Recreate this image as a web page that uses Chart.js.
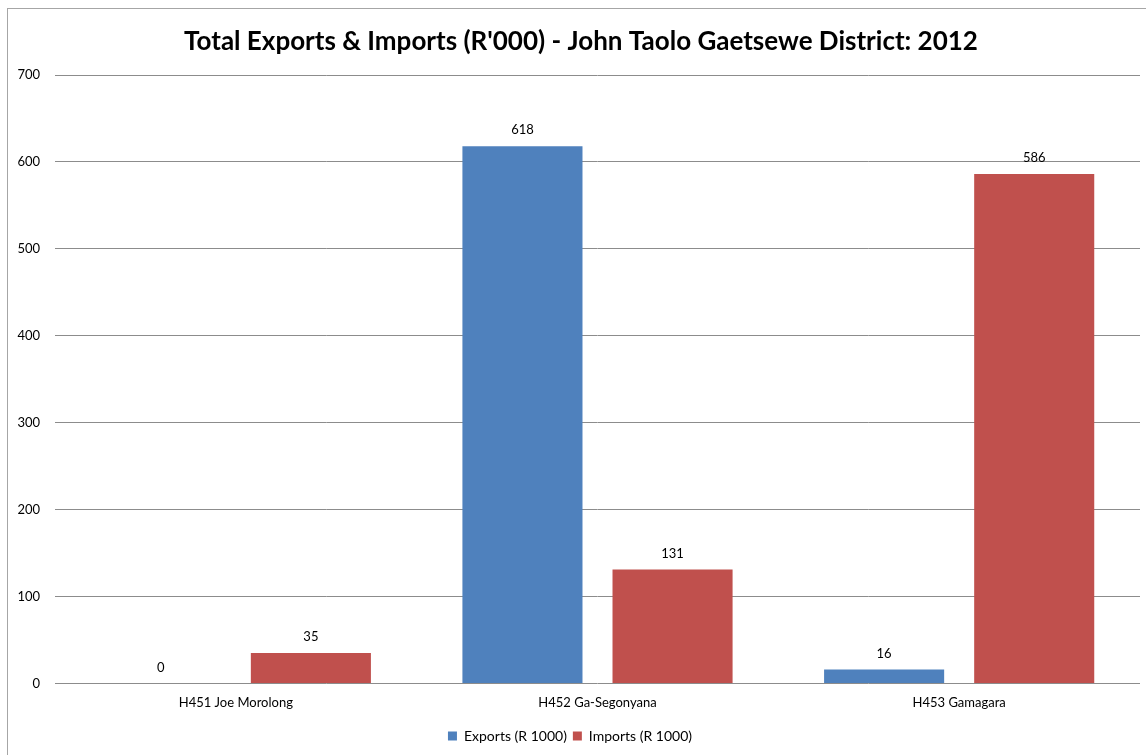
<!DOCTYPE html>
<html>
<head>
<meta charset="utf-8">
<script src="https://cdn.jsdelivr.net/npm/chart.js@4/dist/chart.umd.min.js"></script>
<style>
  html, body { margin: 0; padding: 0; background: #fff; width: 1146px; height: 755px; overflow: hidden; }
  #frame { position: absolute; left: 7px; top: 8px; width: 1160px; height: 770px; border: 1px solid #a6a6a6; box-sizing: border-box; }
  #wrap { position: absolute; left: 0; top: 0; width: 1146px; height: 755px; }
</style>
</head>
<body>
<div id="frame"></div>
<div id="wrap"><canvas id="c" width="1146" height="755"></canvas></div>
<script>
const categories = ["H451 Joe Morolong", "H452 Ga-Segonyana", "H453 Gamagara"];
const exportsValues = [0, 618, 16];
const importsValues = [35, 131, 586];
const yTicks = [0, 100, 200, 300, 400, 500, 600, 700];
const titleText = "Total Exports & Imports (R'000) - John Taolo Gaetsewe District: 2012";
const seriesNames = ["Exports (R 1000)", "Imports (R 1000)"];

const FONT = "Lato, 'Open Sans', sans-serif";

const valueLabels = {
  id: 'valueLabels',
  afterDatasetsDraw(chart) {
    const ctx = chart.ctx;
    ctx.save();
    ctx.font = "13px " + FONT;
    ctx.fillStyle = '#000';
    ctx.textAlign = 'center';
    ctx.textBaseline = 'middle';
    chart.data.datasets.forEach((ds, i) => {
      const meta = chart.getDatasetMeta(i);
      meta.data.forEach((el, j) => {
        ctx.fillText(String(ds.data[j]), el.x, el.y - 16);
      });
    });
    ctx.restore();
  }
};

const centeredTitle = {
  id: 'centeredTitle',
  afterDraw(chart) {
    const ctx = chart.ctx;
    ctx.save();
    ctx.font = "bold 26px " + FONT;
    ctx.fillStyle = '#000';
    ctx.textAlign = 'center';
    ctx.textBaseline = 'middle';
    ctx.fillText(titleText, 581, 42);
    ctx.restore();
  }
};

new Chart(document.getElementById('c'), {
  type: 'bar',
  data: {
    labels: categories,
    datasets: [
      { label: seriesNames[0], data: exportsValues, backgroundColor: '#4F81BD', categoryPercentage: 0.83, barPercentage: 0.8 },
      { label: seriesNames[1], data: importsValues, backgroundColor: '#C0504D', categoryPercentage: 0.83, barPercentage: 0.8 }
    ]
  },
  options: {
    responsive: false,
    animation: false,
    devicePixelRatio: 1,
    layout: { padding: { left: 0, right: 6, top: 75, bottom: 2 } },
    plugins: {
      title: { display: false },
      legend: {
        position: 'bottom',
        labels: {
          color: '#000',
          font: { family: FONT, size: 14 },
          boxWidth: 9, boxHeight: 9, padding: 6
        }
      },
      tooltip: { enabled: false }
    },
    scales: {
      x: {
        grid: { display: false, drawTicks: false },
        border: { display: false },
        ticks: { color: '#000', font: { family: FONT, size: 13 }, padding: 12 }
      },
      y: {
        min: 0, max: 700,
        afterBuildTicks(scale) { scale.ticks = yTicks.map(v => ({ value: v })); },
        afterFit(scale) { scale.width = 55; },
        grid: { color: '#8c8c8c', drawTicks: false, lineWidth: 1 },
        border: { display: false },
        ticks: { color: '#000', font: { family: FONT, size: 13 }, padding: 15 }
      }
    }
  },
  plugins: [valueLabels, centeredTitle]
});
</script>
</body>
</html>
